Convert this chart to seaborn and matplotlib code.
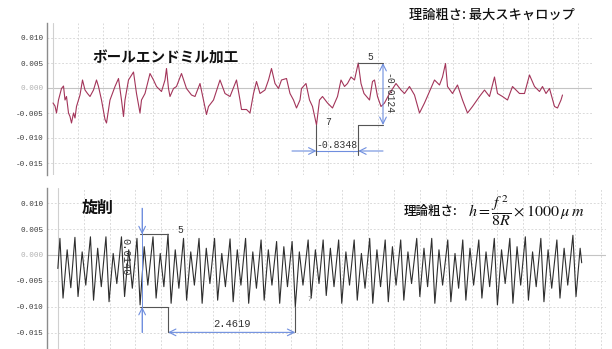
import numpy as np
import pandas as pd
import matplotlib
matplotlib.use("Agg")
import matplotlib.pyplot as plt
import seaborn as sns

# ---------------- profile data (x: mm, z: mm) ----------------
# ball end mill profile
mill_x = [0.00, 0.04, 0.07, 0.11, 0.17, 0.21, 0.24, 0.27, 0.31, 0.34,
          0.37, 0.41, 0.44, 0.47, 0.54, 0.59, 0.64, 0.69, 0.74, 0.81,
          0.87, 0.91, 0.97, 1.04, 1.07, 1.14, 1.24, 1.31, 1.37, 1.41,
          1.44, 1.51, 1.61, 1.67, 1.74, 1.77, 1.84, 1.94, 2.01, 2.07,
          2.17, 2.24, 2.27, 2.31, 2.34, 2.41, 2.47, 2.57, 2.67, 2.77,
          2.84, 2.94, 3.01, 3.07, 3.11, 3.21, 3.34, 3.44, 3.54, 3.67,
          3.74, 3.77, 3.87, 3.94, 4.01, 4.07, 4.14, 4.24, 4.31, 4.37,
          4.44, 4.51, 4.57, 4.67, 4.74, 4.81, 4.87, 4.94, 4.97, 5.06,
          5.13, 5.19, 5.27, 5.33, 5.39, 5.49, 5.59, 5.69, 5.76, 5.83,
          5.89, 5.96, 6.03, 6.1048, 6.16, 6.22, 6.33, 6.39, 6.43, 6.49,
          6.56, 6.63, 6.73, 6.86, 6.96, 7.03, 7.13, 7.23, 7.33, 7.43,
          7.53, 7.63, 7.73, 7.79, 7.85, 7.89, 7.99, 8.09, 8.19, 8.29,
          8.39, 8.53, 8.63, 8.73, 8.83, 8.89, 8.99, 9.09, 9.19, 9.33,
          9.43, 9.53, 9.63, 9.73, 9.79, 9.86, 9.93, 10.03, 10.09, 10.16,
          10.19]
mill_z = [-0.0030, -0.0036, -0.0050, -0.0024, -0.0001, 0.0004, -0.0024, -0.0017, -0.0050, -0.0057,
          -0.0070, -0.0050, -0.0060, -0.0037, -0.0014, 0.0016, -0.0004, -0.0011, -0.0017, -0.0004,
          0.0016, 0.0003, -0.0024, -0.0063, -0.0070, -0.0024, 0.0003, 0.0019, -0.0024, -0.0057,
          -0.0024, 0.0016, 0.0032, -0.0011, -0.0050, -0.0024, -0.0011, 0.0029, 0.0016, 0.0003,
          -0.0007, 0.0016, 0.0039, -0.0001, -0.0017, -0.0001, 0.0003, 0.0029, -0.0001, -0.0014,
          -0.0017, 0.0009, -0.0024, -0.0053, -0.0037, -0.0024, 0.0016, -0.0011, -0.0017, 0.0016,
          -0.0024, -0.0043, -0.0043, -0.0050, -0.0011, 0.0013, -0.0011, -0.0004, 0.0016, 0.0039,
          0.0009, -0.0001, 0.0016, 0.0019, -0.0011, -0.0024, -0.0040, -0.0024, -0.0001, 0.0009,
          -0.0024, -0.0037, -0.0074, -0.0024, -0.0017, -0.0030, -0.0040, -0.0017, 0.0016, 0.0003,
          0.0009, 0.0022, 0.0016, 0.0050, 0.0009, -0.0011, -0.0024, 0.0013, 0.0016, -0.0017,
          -0.0037, -0.0030, -0.0011, 0.0009, -0.0004, -0.0011, 0.0003, -0.0014, -0.0050, -0.0030,
          -0.0007, 0.0016, 0.0006, 0.0022, 0.0049, 0.0003, -0.0011, 0.0006, -0.0024, -0.0050,
          -0.0037, -0.0017, -0.0004, -0.0017, 0.0022, -0.0011, -0.0017, -0.0024, 0.0003, -0.0011,
          -0.0011, 0.0026, 0.0003, -0.0007, 0.0003, -0.0011, -0.0001, -0.0037, -0.0040, -0.0024,
          -0.0014]

# turning profile: feed-mark extrema
tall_x = [0.04, 0.33, 0.63, 0.93, 1.23, 1.53, 1.84, 2.13, 2.43, 2.73,
          3.03, 3.33, 3.63, 3.93, 4.23, 4.53, 4.84, 5.13, 5.43, 5.73,
          6.03, 6.33, 6.63, 6.94, 7.23, 7.54, 7.83, 8.14, 8.44, 8.74,
          9.04, 9.34, 9.65, 9.96]
tall_z = [0.0032, 0.0034, 0.0035, 0.0035, 0.0035, 0.0032, 0.0035, 0.0040, 0.0032, 0.0032,
          0.0032, 0.0031, 0.0032, 0.0029, 0.0026, 0.0026, 0.0029, 0.0029, 0.0029, 0.0029,
          0.0032, 0.0029, 0.0029, 0.0032, 0.0032, 0.0029, 0.0029, 0.0029, 0.0032, 0.0032,
          0.0035, 0.0032, 0.0029, 0.0038]
deep_x = [0.10, 0.39, 0.69, 0.99, 1.29, 1.59, 1.90, 2.19, 2.49, 2.79,
          3.09, 3.39, 3.69, 3.99, 4.29, 4.5919, 4.90, 5.19, 5.49, 5.79,
          6.09, 6.39, 6.69, 7.00, 7.29, 7.60, 7.89, 8.20, 8.50, 8.80,
          9.10, 9.40, 9.71, 10.02]
deep_z = [-0.0083, -0.0080, -0.0087, -0.0090, -0.0080, -0.0096, -0.0083, -0.0093, -0.0087, -0.0093,
          -0.0087, -0.0090, -0.0093, -0.0087, -0.0093, -0.0100, -0.0083, -0.0078, -0.0093, -0.0087,
          -0.0093, -0.0090, -0.0087, -0.0080, -0.0093, -0.0090, -0.0087, -0.0083, -0.0096, -0.0093,
          -0.0087, -0.0090, -0.0083, -0.0080]
minor_x = [0.18, 0.47, 0.77, 1.07, 1.37, 1.67, 1.98, 2.27, 2.57, 2.87,
           3.17, 3.47, 3.77, 4.07, 4.37, 4.67, 4.98, 5.27, 5.57, 5.87,
           6.17, 6.47, 6.77, 7.08, 7.37, 7.68, 7.97, 8.28, 8.58, 8.88,
           9.18, 9.48, 9.79, 10.10]
minor_z = [0.0010, 0.0006, 0.0013, 0.0003, 0.0010, 0.0016, 0.0003, 0.0010, 0.0006, 0.0013,
           0.0003, 0.0010, 0.0006, 0.0010, 0.0016, 0.0006, 0.0010, 0.0013, 0.0006, 0.0003,
           0.0010, 0.0016, 0.0006, 0.0013, 0.0010, 0.0003, 0.0013, 0.0006, 0.0010, 0.0016,
           0.0006, 0.0010, 0.0013, 0.0013]
shallow_x = [0.25, 0.54, 0.84, 1.14, 1.44, 1.74, 2.05, 2.34, 2.64, 2.94,
             3.24, 3.54, 3.84, 4.14, 4.44, 4.74, 5.05, 5.34, 5.64, 5.94,
             6.24, 6.54, 6.84, 7.15, 7.44, 7.75, 8.04, 8.35, 8.65, 8.95,
             9.25, 9.55, 9.86]
shallow_z = [-0.0063, -0.0058, -0.0061, -0.0055, -0.0064, -0.0058, -0.0061, -0.0064, -0.0058, -0.0055,
             -0.0061, -0.0058, -0.0064, -0.0058, -0.0061, -0.0058, -0.0055, -0.0061, -0.0058, -0.0064,
             -0.0061, -0.0058, -0.0055, -0.0061, -0.0058, -0.0064, -0.0058, -0.0061, -0.0055, -0.0058,
             -0.0061, -0.0064, -0.0058]
turn_ends_x = [0.00, 10.13]
turn_ends_z = [-0.0026, -0.0015]

y_ticks = [0.010, 0.005, 0.000, -0.005, -0.010, -0.015]
y_labels = ["0.010", "0.005", "0.000", "-0.005", "-0.010", "-0.015"]

# ---------------- styling ----------------
sns.set_theme(style="white")
plt.rcParams["font.family"] = ["Noto Sans CJK JP", "DejaVu Sans"]
plt.rcParams["mathtext.fontset"] = "stix"

W, H = 612, 349
fig = plt.figure(figsize=(W / 100, H / 100), dpi=100)
fig.patch.set_facecolor("white")

CJK = ["Noto Sans CJK JP", "DejaVu Sans"]
MONO = "Liberation Mono"
BLUE = "#6f8ede"
GRAY = "#555555"


def fx(px):
    return px / W


def fy(py):
    return 1 - py / H


def style_axes(ax, xlim, ylim):
    ax.set_xlim(*xlim)
    ax.set_ylim(*ylim)
    ax.set_xticks(np.arange(0.5, xlim[1], 0.5))
    ax.set_yticks(y_ticks)
    ax.set_yticklabels(y_labels, fontfamily=MONO, fontsize=5.5, color="#3a3a3a")
    ax.get_yticklabels()[2].set_color("#b0b0b0")
    ax.tick_params(axis="x", length=0, labelbottom=False)
    ax.tick_params(axis="y", length=0, pad=2.5)
    ax.grid(True, linestyle=(0, (2.2, 2.2)), color="#d4d4d4", lw=0.6)
    for s in ["top", "right", "bottom"]:
        ax.spines[s].set_visible(False)
    ax.spines["left"].set_color("#8c8c8c")
    ax.spines["left"].set_linewidth(1.0)
    ax.axhline(0, color="#c4c4c4", lw=0.8, zorder=1)
    ax.axvline(0, color="#d0d0d0", lw=0.8, zorder=1)
    ax.set_xlabel("")
    ax.set_ylabel("")
    ax.set_facecolor("white")


# ---------------- top: ball end mill ----------------
ax1 = fig.add_axes([fx(47), fy(175), fx(545), 152 / H])
mill = pd.DataFrame({"x": mill_x, "z": mill_z})
sns.lineplot(data=mill, x="x", y="z", ax=ax1, color="#a3355a", lw=0.8,
             estimator=None, sort=False, zorder=3)
style_axes(ax1, (-0.12, 10.78), (-0.0174, 0.013))

i_lo = mill_z.index(min(mill_z))
i_hi = mill_z.index(max(mill_z))
x_lo, z_lo = mill_x[i_lo], mill_z[i_lo]
x_hi, z_hi = mill_x[i_hi], mill_z[i_hi]
x_br = 6.60
z_dim = -0.0126
z_foot = -0.0134
ax1.plot([x_hi, x_br], [z_hi, z_hi], color=GRAY, lw=0.8, zorder=4)
ax1.plot([x_hi, x_br], [z_lo, z_lo], color=GRAY, lw=0.8, zorder=4)
ax1.plot([x_hi, x_hi], [z_lo, z_foot], color=GRAY, lw=0.8, zorder=4)
ax1.plot([x_lo, x_lo], [z_lo, z_foot], color=GRAY, lw=0.8, zorder=4)
ax1.annotate("", xy=(x_br, z_hi), xytext=(x_br, z_lo),
             arrowprops=dict(arrowstyle="<->", color=BLUE, lw=0.8, shrinkA=0, shrinkB=0))
ax1.plot([x_lo, x_hi], [z_dim, z_dim], color=BLUE, lw=0.8)
ax1.annotate("", xy=(x_lo, z_dim), xytext=(4.78, z_dim),
             arrowprops=dict(arrowstyle="->", color=BLUE, lw=0.8, shrinkA=0, shrinkB=0))
ax1.annotate("", xy=(x_hi, z_dim), xytext=(x_br, z_dim),
             arrowprops=dict(arrowstyle="->", color=BLUE, lw=0.8, shrinkA=0, shrinkB=0))
ax1.text((x_lo + x_hi) / 2, z_dim + 0.0003, f"{x_lo - x_hi:.4f}", fontfamily=MONO,
         fontsize=7, color="#333333", ha="center", va="bottom")
ax1.text(x_br + 0.10, (z_hi + z_lo) / 2, f"{z_lo - z_hi:.4f}", fontfamily=MONO,
         fontsize=7, color="#333333", rotation=270, ha="center", va="center")
ax1.text(6.34, 0.0061, "5", fontfamily=MONO, fontsize=7, color="#333333", ha="center", va="center")
ax1.text(5.50, -0.0068, "7", fontfamily=MONO, fontsize=7, color="#333333", ha="center", va="center")

# ---------------- bottom: turning ----------------
ax2 = fig.add_axes([fx(47), 0.0, fx(559), 161 / H])
turn = pd.DataFrame({
    "x": turn_ends_x + tall_x + deep_x + minor_x + shallow_x,
    "z": turn_ends_z + tall_z + deep_z + minor_z + shallow_z,
}).sort_values("x")
sns.lineplot(data=turn, x="x", y="z", ax=ax2, color="#2e2e2e", lw=0.8,
             estimator=None, sort=False, zorder=3)
style_axes(ax2, (-0.21, 10.6), (-0.0181, 0.0129))

xp, zp = tall_x[7], tall_z[7]        # marker 5
xv, zv = deep_x[15], deep_z[15]      # marker 7
x_arr = 1.63
z_low = -0.0149
ax2.plot([1.59, xp], [zp, zp], color=GRAY, lw=0.8, zorder=4)
ax2.plot([1.59, xp], [zv, zv], color=GRAY, lw=0.8, zorder=4)
ax2.plot([xp, xp], [zv, z_low], color=GRAY, lw=0.8, zorder=4)
ax2.plot([xv, xv], [zv, z_low], color=GRAY, lw=0.8, zorder=4)
ax2.plot([x_arr, x_arr], [0.0090, z_low], color=BLUE, lw=0.7, zorder=4)
ax2.annotate("", xy=(x_arr, zp), xytext=(x_arr, 0.0090),
             arrowprops=dict(arrowstyle="->", color=BLUE, lw=0.8, shrinkA=0, shrinkB=0))
ax2.annotate("", xy=(x_arr, zv), xytext=(x_arr, z_low),
             arrowprops=dict(arrowstyle="->", color=BLUE, lw=0.8, shrinkA=0, shrinkB=0))
ax2.annotate("", xy=(xp, z_low), xytext=(xv, z_low),
             arrowprops=dict(arrowstyle="<->", color=BLUE, lw=0.8, shrinkA=0, shrinkB=0))
ax2.text((xp + xv) / 2, z_low + 0.0006, f"{xv - xp:.4f}", fontfamily=MONO,
         fontsize=7.5, color="#333333", ha="center", va="bottom")
ax2.text(1.30, -0.0004, f"{zp - zv:.4f}", fontfamily=MONO, fontsize=7.5,
         color="#333333", rotation=270, ha="center", va="center")
ax2.text(2.36, 0.0049, "5", fontfamily=MONO, fontsize=7, color="#333333", ha="center", va="center")
ax2.text(4.87, -0.0086, "7", fontfamily=MONO, fontsize=5, color="#777777", ha="center", va="center")

# ---------------- titles and notes ----------------
fig.text(fx(409), fy(15), "理論粗さ: 最大スキャロップ", family=CJK, fontsize=9.5,
         fontweight="medium", color="#111111", ha="left", va="center")
fig.text(fx(92), fy(58), "ボールエンドミル加工", family=CJK, fontsize=10.5,
         fontweight="bold", color="#111111", ha="left", va="center")
fig.text(fx(82), fy(208), "旋削", family=CJK, fontsize=11.5,
         fontweight="bold", color="#111111", ha="left", va="center")
fig.text(fx(404), fy(211), "理論粗さ:", family=CJK, fontsize=9,
         fontweight="medium", color="#111111", ha="left", va="center")
fig.text(fx(468), fy(211), r"$h=\dfrac{f^{\,2}}{8R}\times1000\,\mu\;m$", fontsize=11.5,
         color="#111111", ha="left", va="center")

fig.savefig("out.png", dpi=100, facecolor="white")
